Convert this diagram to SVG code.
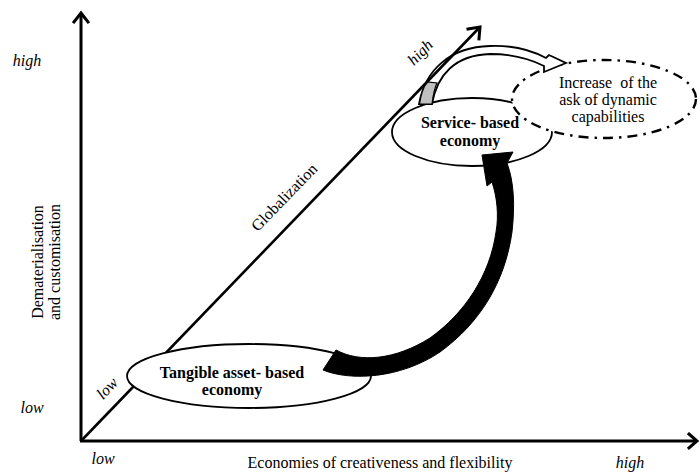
<svg xmlns="http://www.w3.org/2000/svg" width="700" height="474" viewBox="0 0 700 474">
<style>
.t{font-family:"Liberation Serif","Times New Roman",serif;fill:#000}
.it{font-style:italic;font-size:16px}
.b{font-weight:bold;font-size:16px}
.n{font-size:16px}
.ax{stroke:#000;stroke-width:3;fill:none}
.ah{stroke:#000;stroke-width:3;fill:none;stroke-linecap:square;stroke-linejoin:miter}
.el{fill:#fff;stroke:#000;stroke-width:1.8}
</style>
<rect width="700" height="474" fill="#fff"/>
<g id="service">
  <ellipse class="el" cx="472" cy="132" rx="80" ry="34"/>
</g>
<g id="dynamic">
  <ellipse cx="604" cy="99" rx="92" ry="39" fill="#fff" stroke="#000" stroke-width="2.4" stroke-dasharray="10 6 2.5 6"/>
  <text class="t n" fill="#333" text-anchor="middle" x="608" y="88" xml:space="preserve">Increase  of the</text>
  <text class="t n" fill="#333" text-anchor="middle" x="608" y="105">ask of dynamic</text>
  <text class="t n" fill="#333" text-anchor="middle" x="608" y="122">capabilities</text>
</g>
<g id="connectors">
  <g id="gray-arrow">
    <path d="M419,104 C425,70 450,47 490,46 C515,45 533,51 546,58 L549,55 L566,63 L544,72 L544,66 C530,59 510,54 490,54 C455,55 437,75 432,104 Z" fill="#fff" stroke="#000" stroke-width="1.8" stroke-linejoin="miter"/>
    <path d="M419.5,104 C421,94 423,88 427,82 L437,83 C434,89 433,96 432,104 Z" fill="#c0c0c0" stroke="#000" stroke-width="1.2"/>
  </g>
</g>
<g id="axes">
  <line class="ax" x1="81" y1="441" x2="81" y2="14"/>
  <polyline class="ah" points="74,22 81,13 88,22"/>
  <line class="ax" x1="80" y1="441" x2="696" y2="441"/>
  <polyline class="ah" points="689,434 697,441 689,448"/>
  <line x1="81" y1="441" x2="479" y2="28" stroke="#000" stroke-width="2.6"/>
  <polyline class="ah" points="468,29 480,27 479,39" stroke-width="2.6"/>
</g>
<g id="tangible">
  <ellipse class="el" cx="249" cy="376" rx="122" ry="32"/>
  <text class="t b" text-anchor="middle" x="232" y="378">Tangible asset- based</text>
  <text class="t b" text-anchor="middle" x="232" y="395">economy</text>
</g>
<g id="service-text">
  <text class="t b" text-anchor="middle" x="470" y="128">Service- based</text>
  <text class="t b" text-anchor="middle" x="470" y="146">economy</text>
</g>
<g id="black-arrow">
  <path d="M323,370 C350,381 400,379 440,352 C480,323 505,282 512,232 C515,205 514,182 507,163 L513,152 L482,155 L487,186 L492,182 C497,197 499,215 496,232 C490,275 465,313 430,338 C395,360 360,363 336,350 Z" fill="#000" stroke="#000" stroke-width="1" stroke-linejoin="miter"/>
</g>
<g id="labels">
  <text class="t it" text-anchor="middle" x="27" y="66">high</text>
  <text class="t it" text-anchor="middle" x="32" y="413">low</text>
  <text class="t it" text-anchor="middle" x="103" y="464">low</text>
  <text class="t it" text-anchor="middle" x="630" y="468">high</text>
  <text class="t it" font-size="15" text-anchor="middle" transform="translate(111,392) rotate(-46)">low</text>
  <text class="t it" font-size="15" text-anchor="middle" transform="translate(424,56) rotate(-46)">high</text>
  <text class="t n" text-anchor="middle" transform="translate(288,201) rotate(-46)">Globalization</text>
  <text class="t n" text-anchor="middle" x="380" y="468">Economies of creativeness and flexibility</text>
  <text class="t n" text-anchor="middle" transform="translate(43,262) rotate(-90)">Dematerialisation</text>
  <text class="t n" text-anchor="middle" transform="translate(60,262) rotate(-90)">and customisation</text>
</g>
</svg>
